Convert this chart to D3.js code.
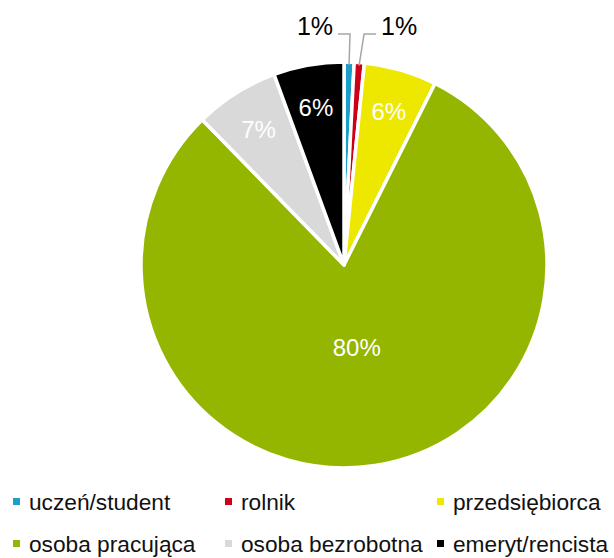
<!DOCTYPE html>
<html>
<head>
<meta charset="utf-8">
<script src="https://cdn.jsdelivr.net/npm/d3@7"></script>
<style>
  body { margin: 0; background: #fff; }
  svg text { font-family: "Liberation Sans", Arial, sans-serif; }
</style>
</head>
<body>
<div id="chart"></div>
<script>
// categories and shares (%), clockwise from 12 o'clock
var categories = ["uczeń/student", "rolnik", "przedsiębiorca", "osoba pracująca", "osoba bezrobotna", "emeryt/rencista"];
var values = [0.8, 0.8, 5.8, 80.3, 6.7, 5.6];
var labels = ["1%", "1%", "6%", "80%", "7%", "6%"];
var colors = ["#1a9fc8", "#cc0018", "#eee800", "#94b600", "#d9d9d9", "#000000"];

var width = 614,
    height = 558;
var cx = 344, cy = 265, R = 203;

var svg = d3.select("#chart").append("svg")
    .attr("width", width)
    .attr("height", height);

var data = categories.map(function(c, i) {
    return { name: c, value: values[i], label: labels[i], color: colors[i] };
});

var pie = d3.pie().sort(null).value(function(d) { return d.value; });
var arcs = pie(data);
var arc = d3.arc().innerRadius(0).outerRadius(R);

var g = svg.append("g").attr("transform", "translate(" + cx + "," + cy + ")");

g.selectAll("path.slice").data(arcs)
    .enter().append("path")
    .attr("class", "slice")
    .attr("d", arc)
    .attr("fill", function(d) { return d.data.color; })
    .attr("stroke", "#fff")
    .attr("stroke-width", 3.5)
    .attr("stroke-linejoin", "round");

// labels inside the bigger slices
var inner = arcs.filter(function(d) { return d.data.value >= 2; });
g.selectAll("text.inlabel").data(inner)
    .enter().append("text")
    .attr("class", "inlabel")
    .attr("transform", function(d) {
        var r = d.data.value > 50 ? R * 0.41 : R * 0.79;
        var c = d3.arc().innerRadius(r).outerRadius(r).centroid(d);
        return "translate(" + c[0] + "," + c[1] + ")";
    })
    .attr("text-anchor", "middle")
    .attr("dy", "0.36em")
    .attr("fill", "#fff")
    .attr("font-size", "24px")
    .text(function(d) { return d.data.label; });

// small slices: labels outside with leader lines
var small = arcs.filter(function(d) { return d.data.value < 2; });
var edgeArc = d3.arc().innerRadius(R - 3).outerRadius(R - 3);
var lineY = 34 - cy;
small.forEach(function(d, i) {
    var side = i === 0 ? -1 : 1;
    var p = edgeArc.centroid(d);
    var elbowX = p[0] + (side > 0 ? 5 : 1);
    var endX = elbowX + side * 12;
    g.append("polyline")
        .attr("points", [[p[0], p[1]], [elbowX, lineY], [endX, lineY]].join(" "))
        .attr("fill", "none")
        .attr("stroke", "#a6a6a6")
        .attr("stroke-width", 1.5);
    g.append("text")
        .attr("x", endX + side * 5)
        .attr("y", lineY + 1)
        .attr("text-anchor", side < 0 ? "end" : "start")
        .attr("fill", "#000")
        .attr("font-size", "25px")
        .text(d.data.label);
});

// legend: 3 columns x 2 rows
var colX = d3.scaleLinear().domain([0, 1]).range([13, 225]);
var rowY = d3.scaleLinear().domain([0, 1]).range([510, 552]);

var legend = svg.selectAll("g.legend").data(data)
    .enter().append("g")
    .attr("class", "legend")
    .attr("transform", function(d, i) {
        return "translate(" + colX(i % 3) + "," + rowY(Math.floor(i / 3)) + ")";
    });

legend.append("rect")
    .attr("x", 0)
    .attr("y", -12)
    .attr("width", 7)
    .attr("height", 7)
    .attr("fill", function(d) { return d.color; });

legend.append("text")
    .attr("x", 16)
    .attr("y", 0)
    .attr("fill", "#111")
    .attr("font-size", "22.7px")
    .text(function(d) { return d.name; });
</script>
</body>
</html>
